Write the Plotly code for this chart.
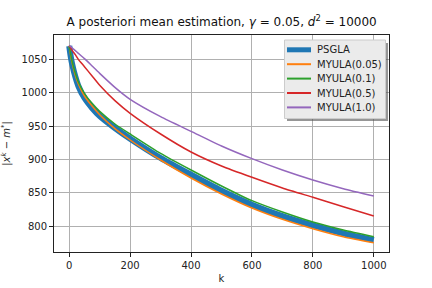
import plotly.graph_objects as go

k = [0, 5, 10, 20, 30, 50, 75, 100, 150, 200, 300, 400, 500, 600, 700, 800, 900, 1000]
psgla = [1070, 1054, 1042, 1024, 1010, 992, 977, 965, 947, 931, 902, 877, 853, 832, 815, 801, 789, 779]
myula_005 = [1070, 1055, 1044, 1026, 1013, 995, 980, 967, 946, 929, 899, 872, 848, 827, 810, 796, 784, 775]
myula_01 = [1070, 1057, 1046, 1029, 1016, 999, 984, 972, 953, 938, 909, 884, 860, 838, 821, 806, 794, 784]
myula_05 = [1071, 1067, 1063, 1057, 1050, 1039, 1025, 1011, 988, 969, 938, 911, 890, 873, 857, 843, 829, 815]
myula_10 = [1071, 1069, 1067, 1063, 1059, 1051, 1040, 1029, 1008, 990, 964, 942, 920, 901, 884, 869, 856, 845]

names = ["PSGLA", "MYULA(0.05)", "MYULA(0.1)", "MYULA(0.5)", "MYULA(1.0)"]
values = [psgla, myula_005, myula_01, myula_05, myula_10]
colors = ["#1f77b4", "#ff7f0e", "#2ca02c", "#d62728", "#9467bd"]
widths = [6, 1.5, 1.5, 1.5, 1.5]

W, H = 432, 288
ML, MR, MT, MB = 54, 43, 35, 36
PW, PH = W - ML - MR, H - MT - MB

def px(x):
    return (x - ML) / PW

def py(y):
    return (H - MB - y) / PH

fig = go.Figure()
for name, vals, color, w in zip(names, values, colors, widths):
    fig.add_trace(go.Scatter(x=k, y=vals, mode="lines", name=name, showlegend=False,
                             line=dict(color=color, width=w, shape="spline", smoothing=0.6)))

# hand-built legend (matplotlib-like compact box with shadow)
shapes = [
    dict(type="rect", xref="paper", yref="paper", x0=px(287), x1=px(388), y0=py(121), y1=py(43),
         fillcolor="rgba(80,80,80,0.6)", line=dict(width=0), layer="above"),
    dict(type="rect", xref="paper", yref="paper", x0=px(284.5), x1=px(385.5), y0=py(118.5), y1=py(40),
         fillcolor="#ebebeb", line=dict(color="#cccccc", width=1), layer="above"),
]
annotations = []
row_y = [49.8, 64.2, 78.6, 93.0, 107.4]
for name, color, w, ry in zip(names, colors, widths, row_y):
    shapes.append(dict(type="line", xref="paper", yref="paper", x0=px(287), x1=px(311), y0=py(ry), y1=py(ry),
                       line=dict(color=color, width=(5 if w > 2 else 2)), layer="above"))
    annotations.append(dict(text=name, xref="paper", yref="paper", x=px(315), y=py(ry),
                            xanchor="left", yanchor="middle", showarrow=False,
                            font=dict(size=10, color="#222")))

font = "DejaVu Sans, sans-serif"
fig.update_layout(
    width=W, height=H,
    margin=dict(l=ML, r=MR, t=MT, b=MB),
    paper_bgcolor="white", plot_bgcolor="white",
    font=dict(family=font, size=10, color="#222"),
    title=dict(text="A posteriori mean estimation, <i>γ</i> = 0.05, <i>d</i><sup>2</sup> = 10000",
               x=0.513, xanchor="center", y=0.925, yanchor="middle",
               font=dict(size=12, color="#111")),
    showlegend=False,
    shapes=shapes,
    annotations=annotations,
)
fig.update_xaxes(range=[-50, 1050], tickvals=[0, 200, 400, 600, 800, 1000],
                 showgrid=True, gridcolor="#b0b0b0", gridwidth=0.8,
                 showline=True, linecolor="#222", linewidth=1, mirror=True,
                 ticks="outside", ticklen=4, tickcolor="#222", zeroline=False,
                 automargin=False,
                 title=dict(text="k", font=dict(size=10), standoff=4))
fig.update_yaxes(range=[761, 1086.5], tickvals=[800, 850, 900, 950, 1000, 1050],
                 showgrid=True, gridcolor="#b0b0b0", gridwidth=0.8,
                 showline=True, linecolor="#222", linewidth=1, mirror=True,
                 ticks="outside", ticklen=4, tickcolor="#222", zeroline=False,
                 automargin=False,
                 title=dict(text="|<i>x</i><sup><i>k</i></sup> − <i>m</i><sup>*</sup>|", font=dict(size=10), standoff=10))

fig.write_html("out.html", config={"displayModeBar": False},
               post_script="document.body.style.margin='0px';")
